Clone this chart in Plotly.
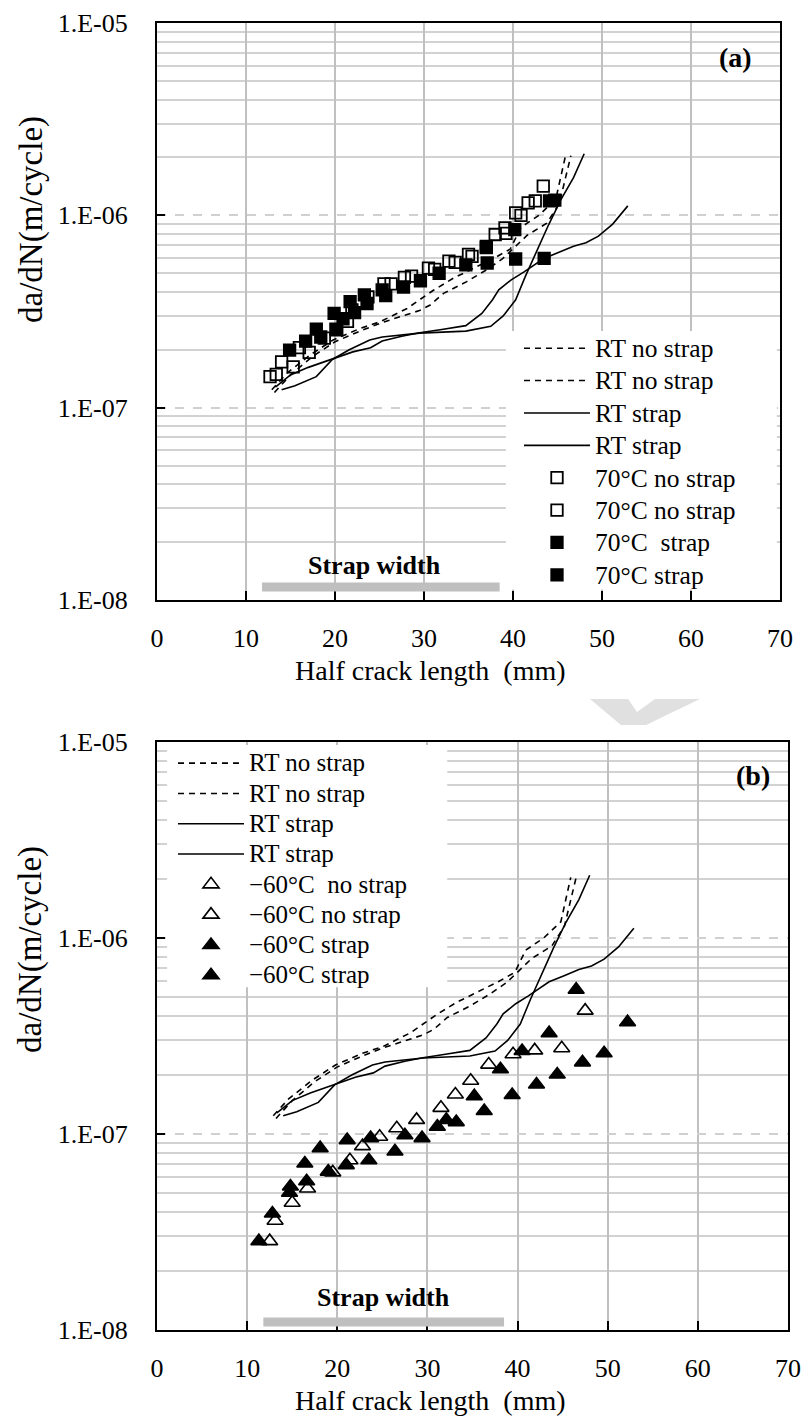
import plotly.graph_objects as go

W, H = 806, 1419
FONT = "Liberation Serif"

# ---------------- data ----------------
# room-temperature reference curves (same in both panels)
rt_nostrap_1_x = [12.9, 14.6, 17.2, 19.8, 22.8, 25.1, 28.1, 31.1, 33.3, 35.5, 37.9, 39.7, 40.9, 42.9, 44.8, 45.9]
rt_nostrap_1_y = [1.24e-7, 1.51e-7, 1.88e-7, 2.25e-7, 2.58e-7, 2.80e-7, 3.28e-7, 4.09e-7, 4.71e-7, 5.30e-7,
                  6.0e-7, 6.68e-7, 8.67e-7, 1.0e-6, 1.21e-6, 2.04e-6]
rt_nostrap_2_x = [13.2, 15.0, 17.5, 20.0, 22.8, 25.1, 27.3, 29.5, 30.7, 32.2, 34.8, 37.0, 38.8, 41.6, 43.8, 45.2, 46.5]
rt_nostrap_2_y = [1.2e-7, 1.48e-7, 1.85e-7, 2.2e-7, 2.5e-7, 2.75e-7, 2.97e-7, 3.2e-7, 3.42e-7, 3.93e-7,
                  4.52e-7, 5.2e-7, 5.93e-7, 7.88e-7, 9.1e-7, 1.15e-6, 2.04e-6]
rt_strap_1_x = [13.3, 15.0, 17.0, 19.8, 22.0, 24.0, 25.3, 27.5, 29.5, 32.0, 34.7, 36.5, 37.7, 38.4, 39.8,
                41.2, 43.5, 45.1, 46.8, 48.2, 49.6, 51.2, 52.9]
rt_strap_1_y = [1.28e-7, 1.48e-7, 1.62e-7, 1.80e-7, 1.95e-7, 2.05e-7, 2.22e-7, 2.35e-7, 2.45e-7, 2.55e-7,
                2.67e-7, 3.09e-7, 3.64e-7, 4.10e-7, 4.62e-7, 5.07e-7, 5.98e-7, 6.4e-7, 6.9e-7, 7.2e-7,
                7.8e-7, 9.0e-7, 1.12e-6]
rt_strap_2_x = [14.0, 15.5, 17.9, 19.7, 21.6, 23.9, 25.3, 29.5, 34.7, 37.5, 38.9, 40.3, 41.4, 42.6, 44.0,
                45.4, 46.8, 48.0]
rt_strap_2_y = [1.24e-7, 1.30e-7, 1.45e-7, 1.78e-7, 2.0e-7, 2.25e-7, 2.33e-7, 2.44e-7, 2.50e-7, 2.65e-7,
                3.0e-7, 3.64e-7, 4.83e-7, 6.41e-7, 8.93e-7, 1.21e-6, 1.57e-6, 2.09e-6]

# 70 degC tests (panel a)
hot_nostrap_1_x = [12.7, 14.0, 16.0, 18.8, 21.9, 25.5, 27.8, 30.5, 32.8, 35.0, 37.0, 39.1, 40.3, 41.7, 43.4]
hot_nostrap_1_y = [1.45e-7, 1.73e-7, 2.05e-7, 2.30e-7, 3.22e-7, 4.40e-7, 4.76e-7, 5.31e-7, 5.78e-7, 6.26e-7,
                   6.89e-7, 8.60e-7, 1.03e-6, 1.16e-6, 1.42e-6]
hot_nostrap_2_x = [13.4, 15.3, 17.1, 20.2, 21.4, 23.7, 26.3, 28.6, 31.2, 33.5, 35.4, 38.0, 39.2, 40.9, 42.5]
hot_nostrap_2_y = [1.49e-7, 1.63e-7, 1.94e-7, 2.54e-7, 2.81e-7, 3.77e-7, 4.40e-7, 4.83e-7, 5.24e-7, 5.70e-7,
                   6.12e-7, 7.95e-7, 8.05e-7, 1.00e-6, 1.19e-6]
hot_strap_1_x = [14.9, 17.9, 19.9, 20.9, 22.2, 23.6, 25.7, 29.6, 34.7, 37.1, 40.3, 44.1]
hot_strap_1_y = [1.99e-7, 2.56e-7, 3.09e-7, 2.90e-7, 3.12e-7, 3.48e-7, 3.82e-7, 4.57e-7, 5.52e-7, 5.65e-7,
                 5.93e-7, 1.19e-6]
hot_strap_2_x = [16.7, 18.4, 20.1, 21.7, 23.3, 25.3, 27.7, 31.7, 37.0, 40.2, 43.5, 44.7]
hot_strap_2_y = [2.22e-7, 2.33e-7, 2.56e-7, 3.56e-7, 3.86e-7, 4.10e-7, 4.24e-7, 5.00e-7, 6.79e-7, 8.43e-7,
                 5.98e-7, 1.20e-6]

# -60 degC tests (panel b)
cold_nostrap_1_x = [12.5, 15.0, 19.5, 22.8, 26.6, 31.5, 34.8, 39.5, 44.9]
cold_nostrap_1_y = [2.84e-8, 4.46e-8, 6.37e-8, 8.67e-8, 1.07e-7, 1.36e-7, 1.87e-7, 2.55e-7, 2.74e-7]
cold_nostrap_2_x = [13.1, 16.7, 21.4, 24.7, 28.8, 33.1, 36.8, 41.9, 47.5]
cold_nostrap_2_y = [3.61e-8, 5.27e-8, 7.34e-8, 9.68e-8, 1.18e-7, 1.59e-7, 2.26e-7, 2.67e-7, 4.26e-7]
cold_strap_1_x = [11.3, 14.7, 16.6, 19.0, 21.0, 23.5, 26.4, 29.4, 33.2, 36.3, 39.4, 42.1, 44.4, 47.2, 49.6]
cold_strap_1_y = [2.84e-8, 5.02e-8, 5.74e-8, 6.43e-8, 6.94e-8, 7.34e-8, 8.15e-8, 9.53e-8, 1.15e-7, 1.31e-7,
                  1.58e-7, 1.79e-7, 2.01e-7, 2.32e-7, 2.58e-7]
cold_strap_2_x = [12.8, 14.8, 16.4, 18.1, 21.1, 23.7, 27.5, 31.1, 32.1, 35.2, 38.1, 40.5, 43.5, 46.5, 52.2]
cold_strap_2_y = [3.93e-8, 5.40e-8, 7.07e-8, 8.47e-8, 9.31e-8, 9.53e-8, 9.86e-8, 1.09e-7, 1.18e-7, 1.56e-7,
                  2.14e-7, 2.65e-7, 3.27e-7, 5.45e-7, 3.72e-7]

strap_span = [11.8, 38.5]          # mm covered by the strap
x_ticks = [0, 10, 20, 30, 40, 50, 60, 70]
y_ticks = [1e-8, 1e-7, 1e-6, 1e-5]
y_tick_text = ["1.E-08", "1.E-07", "1.E-06", "1.E-05"]
y_minor = [m * 10.0 ** e for e in (-8, -7, -6) for m in range(2, 10)]

NB = "\u00a0"
legend_a = ["RT no strap", "RT no strap", "RT strap", "RT strap",
            "70°C no strap", "70°C no strap", "70°C " + NB + "strap", "70°C strap"]
legend_b = ["RT no strap", "RT no strap", "RT strap", "RT strap",
            "\u221260°C " + NB + "no strap", "\u221260°C no strap", "\u221260°C strap", "\u221260°C strap"]


def key_label(text, px):
    # key text drawn a little larger than the row pitch the legend font implies
    return f'<span style="font-size:{px}px">{text}</span>'


# ---------------- figure ----------------
fig = go.Figure()

rt_series = [(rt_nostrap_1_x, rt_nostrap_1_y, "6px,5px"),
             (rt_nostrap_2_x, rt_nostrap_2_y, "6px,5px"),
             (rt_strap_1_x, rt_strap_1_y, "solid"),
             (rt_strap_2_x, rt_strap_2_y, "solid")]


def add_rt(names, xa, ya, leg, px):
    for (xs, ys, dash), name in zip(rt_series, names):
        fig.add_trace(go.Scatter(x=xs, y=ys, mode="lines", name=key_label(name, px), xaxis=xa, yaxis=ya,
                                 legend=leg, line=dict(color="black", width=1.6, dash=dash)))


add_rt(legend_a[:4], "x", "y", "legend", 25.5)
hot = [(hot_nostrap_1_x, hot_nostrap_1_y, "square-open"), (hot_nostrap_2_x, hot_nostrap_2_y, "square-open"),
       (hot_strap_1_x, hot_strap_1_y, "square"), (hot_strap_2_x, hot_strap_2_y, "square")]
for (xs, ys, sym), name in zip(hot, legend_a[4:]):
    fig.add_trace(go.Scatter(x=xs, y=ys, mode="markers", name=key_label(name, 25.5), xaxis="x", yaxis="y",
                             legend="legend",
                             marker=dict(symbol=sym, size=11.5, color="black",
                                         line=dict(color="black", width=1.8))))

add_rt(legend_b[:4], "x2", "y2", "legend2", 25)
cold = [(cold_nostrap_1_x, cold_nostrap_1_y, "triangle-up-open"),
        (cold_nostrap_2_x, cold_nostrap_2_y, "triangle-up-open"),
        (cold_strap_1_x, cold_strap_1_y, "triangle-up"), (cold_strap_2_x, cold_strap_2_y, "triangle-up")]
for (xs, ys, sym), name in zip(cold, legend_b[4:]):
    fig.add_trace(go.Scatter(x=xs, y=ys, mode="markers", name=key_label(name, 25), xaxis="x2", yaxis="y2",
                             legend="legend2",
                             marker=dict(symbol=sym, size=14, color="black", line=dict(color="black", width=1.6))))

tickfont = dict(family=FONT, size=26, color="black")


def xax(domain, anchor):
    return dict(domain=domain, range=[0, 70], tickvals=x_ticks, showgrid=True, gridcolor="#c0c0c0",
                gridwidth=2, zeroline=False, showline=True, linecolor="black", linewidth=2.2, mirror=True,
                ticks="inside", ticklen=9, tickwidth=1.5, tickcolor="black", tickfont=tickfont,
                ticklabelstandoff=14, automargin=False, anchor=anchor)


def yax(domain, anchor):
    return dict(domain=domain, type="log", range=[-8, -5], tickvals=y_ticks, ticktext=y_tick_text,
                showgrid=True, gridcolor="#d0d0d0", gridwidth=1.5, griddash="dash", zeroline=False,
                showline=True, linecolor="black", linewidth=2.2, mirror=True, ticks="inside", ticklen=8,
                tickwidth=1.5, tickcolor="black", tickfont=tickfont, ticklabelstandoff=22, automargin=False,
                anchor=anchor,
                minor=dict(tickvals=y_minor, showgrid=True, gridcolor="#d2d2d2", gridwidth=2,
                           griddash="solid", ticks=""))


def py(p):
    return 1 - p / H


fig.update_layout(
    width=W, height=H, margin=dict(l=0, r=0, t=0, b=0), paper_bgcolor="white", plot_bgcolor="white",
    font=dict(family=FONT, color="black"),
    xaxis=xax([157 / W, 780 / W], "y"),
    yaxis=yax([py(600), py(23)], "x"),
    xaxis2=xax([157 / W, 788 / W], "y2"),
    yaxis2=yax([py(1330), py(742)], "x2"),
    legend=dict(x=519 / W, y=py(327), xanchor="left", yanchor="top", bgcolor="rgba(0,0,0,0)", borderwidth=0,
                font=dict(family=FONT, size=22.6, color="black"), itemwidth=66, tracegroupgap=0,
                traceorder="normal"),
    legend2=dict(x=173 / W, y=py(743), xanchor="left", yanchor="top", bgcolor="rgba(0,0,0,0)", borderwidth=0,
                 font=dict(family=FONT, size=21, color="black"), itemwidth=66, tracegroupgap=0,
                 traceorder="normal"),
    showlegend=True,
)


def px_path(points):
    # polygon given in page pixels, converted to paper fractions
    parts = [f"{'M' if i == 0 else 'L'} {x / W:.5f},{py(y):.5f}" for i, (x, y) in enumerate(points)]
    return " ".join(parts) + " Z"


shapes = [
    # white backing behind each key
    dict(type="rect", xref="x domain", yref="y domain", x0=0.56, x1=0.995, y0=0.018, y1=0.466,
         fillcolor="white", line=dict(width=0), layer="above"),
    dict(type="rect", xref="x2 domain", yref="y2 domain", x0=0.016, x1=0.46, y0=0.583, y1=0.995,
         fillcolor="white", line=dict(width=0), layer="above"),
    # strap width bars
    dict(type="line", xref="x", yref="y domain", x0=strap_span[0], x1=strap_span[1], y0=0.0225, y1=0.0225,
         line=dict(color="#bfbfbf", width=9), layer="above"),
    dict(type="line", xref="x2", yref="y2 domain", x0=strap_span[0], x1=strap_span[1], y0=0.0136, y1=0.0136,
         line=dict(color="#bfbfbf", width=9), layer="above"),
    # faint grey chevron between the panels
    dict(type="path", xref="paper", yref="paper",
         path=px_path([(590, 699), (628, 699), (637, 712), (655, 699), (700, 699), (646, 725), (621, 725)]),
         fillcolor="#e0e0e0", line=dict(width=0), layer="above"),
]
fig.update_layout(shapes=shapes)

mid = (strap_span[0] + strap_span[1]) / 2
bold = dict(family=FONT, size=26, color="black")
label_font = dict(family=FONT, size=28, color="black")
xtitle_font = dict(family=FONT, size=28, color="black")
ytitle_font = dict(family=FONT, size=33, color="black")
common = dict(showarrow=False, xanchor="center", yanchor="middle")
annotations = [
    dict(text="<b>Strap width</b>", xref="x", yref="y domain", x=mid - 0.7, y=0.059, font=bold, **common),
    dict(text="<b>Strap width</b>", xref="x2", yref="y2 domain", x=mid, y=0.056, font=bold, **common),
    dict(text="<b>(a)</b>", xref="paper", yref="paper", x=735 / W, y=py(57), font=label_font, **common),
    dict(text="<b>(b)</b>", xref="paper", yref="paper", x=753 / W, y=py(775), font=label_font, **common),
    dict(text="da/dN(m/cycle)", xref="paper", yref="paper", x=31 / W, y=py(220), textangle=-90,
         font=ytitle_font, **common),
    dict(text="da/dN(m/cycle)", xref="paper", yref="paper", x=31 / W, y=py(950), textangle=-90,
         font=ytitle_font, **common),
    dict(text="Half crack length " + NB + "(mm)", xref="paper", yref="paper", x=430 / W, y=py(671),
         font=xtitle_font, **common),
    dict(text="Half crack length " + NB + "(mm)", xref="paper", yref="paper", x=430 / W, y=py(1400),
         font=xtitle_font, **common),
]
fig.update_layout(annotations=annotations)

fig.write_html("out.html")
